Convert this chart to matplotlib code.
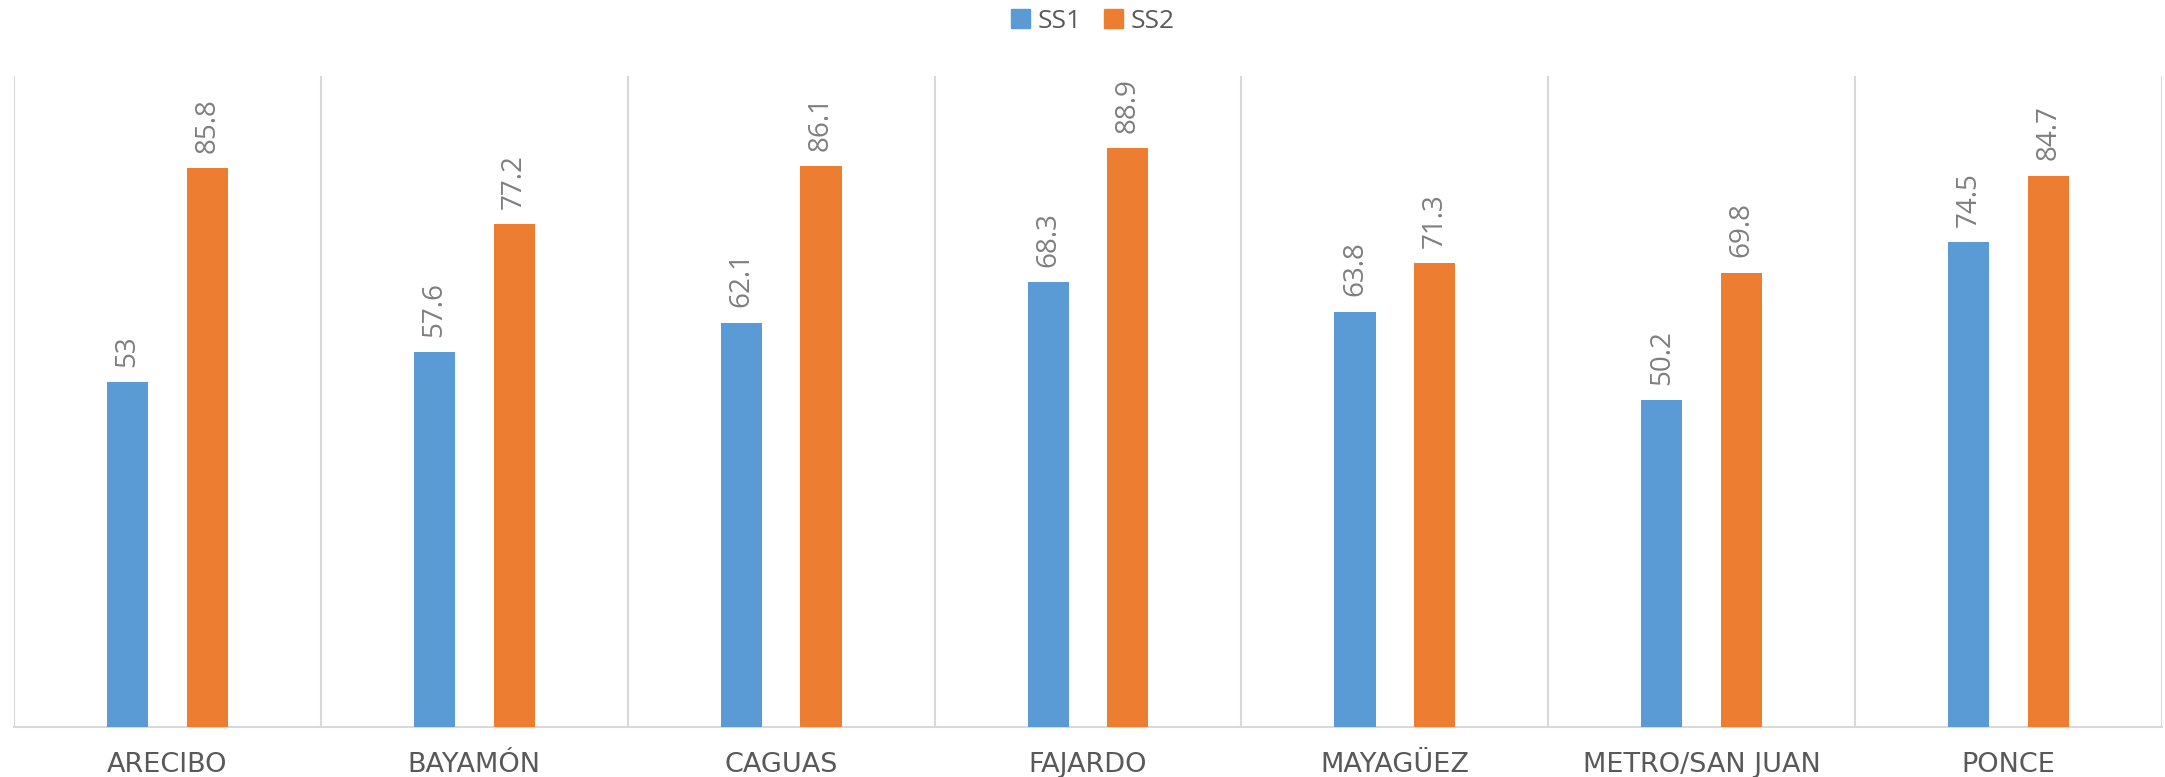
import matplotlib
matplotlib.use("Agg")
import matplotlib.pyplot as plt
from matplotlib.patches import Patch
import numpy as np

plt.rcParams['font.family'] = ['Open Sans', 'DejaVu Sans']

categories = ["ARECIBO", "BAYAMÓN", "CAGUAS", "FAJARDO", "MAYAGÜEZ", "METRO/SAN JUAN", "PONCE"]
ss1 = [53, 57.6, 62.1, 68.3, 63.8, 50.2, 74.5]
ss2 = [85.8, 77.2, 86.1, 88.9, 71.3, 69.8, 84.7]
series_names = ["SS1", "SS2"]

BLUE = "#5B9BD5"
ORANGE = "#ED7D31"
GRID = "#D9D9D9"
TXT = "#595959"
LBL = "#7F7F7F"

W, H = 2165, 777
fig = plt.figure(figsize=(W / 100, H / 100), dpi=100)
ax = fig.add_axes([14 / W, 50 / H, 2148 / W, 651 / H])

x = np.arange(len(categories))
bw = 0.134
off = 0.13
b1 = ax.bar(x - off, ss1, width=bw, color=BLUE, zorder=3)
b2 = ax.bar(x + off, ss2, width=bw, color=ORANGE, zorder=3)

for bars, vals in ((b1, ss1), (b2, ss2)):
    for rect, v in zip(bars, vals):
        ax.annotate(f"{v:g}", xy=(rect.get_x() + rect.get_width() / 2, rect.get_height()),
                    xytext=(0, 11), textcoords="offset points", rotation=90,
                    ha="center", va="bottom", fontsize=20, color=LBL)

ax.set_xlim(-0.5, len(categories) - 0.5)
ax.set_ylim(0, 100)
for b in np.arange(-0.5, len(categories), 1.0):
    ax.axvline(b, color=GRID, lw=1.5, zorder=1)

for s in ("top", "left", "right"):
    ax.spines[s].set_visible(False)
ax.spines["bottom"].set_color(GRID)
ax.spines["bottom"].set_linewidth(1.5)
ax.set_yticks([])
ax.set_xticks(x)
ax.set_xticklabels(categories, fontsize=19.5, color=TXT, family=['DejaVu Sans'])
ax.tick_params(axis="x", length=0, pad=18)

handles = [Patch(color=BLUE), Patch(color=ORANGE)]
fig.legend(handles, series_names, loc="center", bbox_to_anchor=(1093 / W, 1 - 21 / H),
           ncol=2, frameon=False, fontsize=19, labelcolor=TXT,
           handlelength=0.7, handleheight=0.7, handletextpad=0.3, columnspacing=0.85)

fig.savefig("out.png", dpi=100)
